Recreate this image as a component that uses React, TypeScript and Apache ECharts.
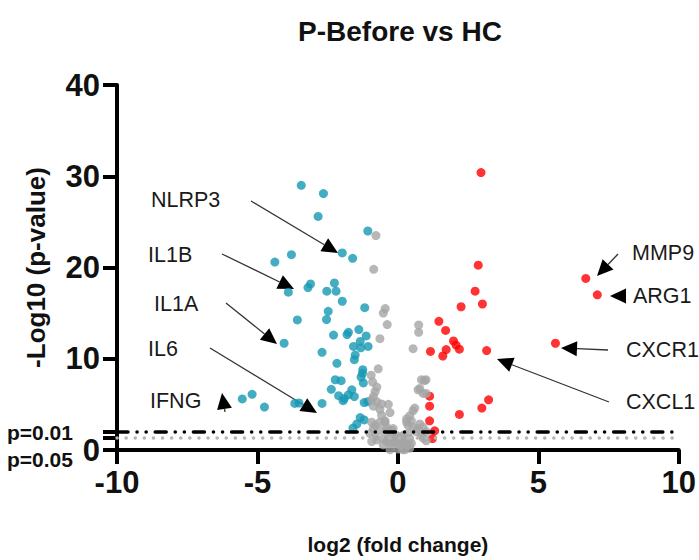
import React, { useEffect, useRef } from "react";
import * as echarts from "echarts";

const TITLE = "P-Before vs HC";
const X_NAME = "log2 (fold change)";
const Y_NAME = "-Log10 (p-value)";
const X_TICKS = [-10, -5, 0, 5, 10];
const Y_TICKS = [0, 10, 20, 30, 40];
const THRESHOLDS = [
  { label: "p=0.01", value: 2 },
  { label: "p=0.05", value: 1.3 },
];

// Down-regulated (teal)
const downPoints: number[][] = [
  [-3.44, 29.0], [-2.65, 28.1], [-2.84, 25.6], [-1.07, 24.0], [-1.98, 21.6], [-1.61, 21.0],
  [-3.79, 21.4], [-4.38, 20.6], [-3.11, 18.2], [-3.2, 17.8], [-2.26, 18.3], [-3.9, 17.3],
  [-2.53, 17.4], [-2.2, 17.4], [-1.98, 16.3], [-2.48, 15.2], [-1.18, 15.6], [-2.54, 14.3],
  [-3.58, 14.25], [-2.29, 12.6], [-1.76, 12.9], [-1.81, 12.65], [-1.39, 13.2], [-1.13, 12.5],
  [-1.34, 11.9], [-1.58, 11.35], [-1.32, 11.2], [-1.06, 11.35], [-1.52, 10.4], [-1.55, 9.9],
  [-2.7, 10.7], [-4.05, 11.7], [-2.17, 9.5], [-1.25, 8.8], [-1.26, 8.4], [-1.31, 8.0],
  [-2.23, 7.7], [-2.02, 7.6], [-1.23, 7.35], [-2.37, 6.65], [-2.11, 5.95], [-1.91, 5.65],
  [-1.76, 6.05], [-1.64, 6.6], [-1.55, 5.85], [-1.95, 5.4], [-1.2, 5.2], [-1.07, 5.3],
  [-5.54, 5.6], [-5.19, 6.1], [-4.75, 4.7], [-3.67, 5.1], [-3.52, 5.15], [-2.7, 5.1],
  [-1.34, 3.55], [-1.2, 3.3], [-1.6, 2.4], [-1.46, 2.85],
];

// Up-regulated (red)
const upPoints: number[][] = [
  [2.96, 30.4], [2.86, 20.25], [2.75, 17.4], [6.69, 18.8], [7.1, 17.0], [2.25, 15.7],
  [3.01, 16.0], [1.46, 14.1], [1.7, 13.1], [1.98, 11.95], [2.07, 11.5], [2.19, 11.05],
  [1.16, 10.8], [1.72, 11.0], [1.6, 10.3], [3.16, 10.9], [5.61, 11.7], [1.13, 5.9],
  [1.13, 4.8], [1.13, 3.2], [3.23, 5.5], [2.99, 4.6], [2.19, 3.9], [1.31, 2.1], [1.23, 1.25],
];

// Not significant (gray)
const nsPoints: number[][] = [
  [-0.78, 23.5], [-0.86, 19.8], [-0.45, 15.5], [-0.52, 15.0], [-0.38, 13.75], [0.74, 13.7],
  [0.74, 12.9], [-0.64, 12.2], [0.54, 11.1], [-0.7, 8.9], [-0.95, 8.2], [-0.9, 7.45],
  [-0.75, 6.9], [-0.81, 6.4], [0.84, 7.7], [1.0, 7.7], [0.78, 6.75], [0.72, 6.6], [0.9, 6.2],
  [-0.87, 5.85], [-0.75, 5.3], [-0.58, 5.05], [-0.34, 5.0], [-0.93, 5.5], [-0.87, 4.8],
  [-0.64, 4.45], [-0.28, 4.1], [-0.58, 3.8], [-0.46, 3.2], [-0.64, 3.05], [-0.93, 3.05],
  [-0.87, 2.35], [-0.81, 2.7], [-0.99, 1.8], [-0.81, 1.45], [-0.93, 0.92], [-0.75, 1.1],
  [-0.4, 2.5], [-0.64, 2.15], [-0.4, 2.15], [-0.22, 2.15], [-0.17, 2.35], [-0.22, 1.8],
  [-0.05, 1.6], [-0.34, 1.27], [-0.52, 1.27], [-0.05, 1.27], [0.13, 1.1], [-0.1, 0.74],
  [0.07, 0.56], [0.31, 0.56], [0.25, 0.03], [0.42, 0.2], [0.48, 0.74], [0.42, 1.27],
  [0.19, 1.6], [0.36, 1.8], [0.54, 2.5], [0.48, 3.2], [0.42, 3.75], [0.54, 4.3], [0.6, 4.6],
  [0.31, 3.05], [0.36, 2.7], [0.72, 2.35], [0.84, 1.6], [0.78, 2.85], [0.66, 2.0],
  [0.9, 2.5], [1.01, 2.0], [0.9, 1.3], [1.01, 1.0], [-0.4, 0.92], [-0.28, 0.74],
  [-0.17, 0.92], [0.17, 0.74], [0.29, 0.92], [0.4, 0.56], [0.17, 0.03], [0.0, 0.1],
  [-0.28, 0.03], [-0.52, 0.56], [0.13, 1.45], [0.31, 3.4], [0.95, 7.6], [1.01, 6.2],
  [-0.46, 3.05],
];

// Annotations: label, text anchor (px), arrow start & tip (px)
const ANNOTATIONS = [
  { text: "NLRP3", x: 151, y: 200, from: [251, 201], to: [338, 253] },
  { text: "IL1B", x: 148, y: 255, from: [222, 254], to: [294, 289] },
  { text: "IL1A", x: 154, y: 304, from: [226, 303], to: [277, 344] },
  { text: "IL6", x: 148, y: 349, from: [210, 348], to: [317, 413] },
  { text: "IFNG", x: 150, y: 401, from: [225, 412], to: [222, 393] },
  { text: "MMP9", x: 632, y: 253, from: [618, 254], to: [597, 276] },
  { text: "ARG1", x: 633, y: 296, from: [628, 296], to: [610, 296] },
  { text: "CXCR1", x: 626, y: 350, from: [608, 350], to: [561, 348] },
  { text: "CXCL1", x: 626, y: 402, from: [609, 402], to: [497, 359] },
];

const TEAL = "#1798B3";
const RED = "#FF0000";
const GRAY = "#A5A5A5";
const FONT = "'Liberation Sans', Arial, sans-serif";

function arrowGraphics(a: any) {
  const [x1, y1] = a.from;
  const [x2, y2] = a.to;
  const dx = x2 - x1;
  const dy = y2 - y1;
  const len = Math.sqrt(dx * dx + dy * dy);
  const ux = dx / len;
  const uy = dy / len;
  const headLen = 16;
  const headHalf = 7.5;
  const bx = x2 - ux * headLen;
  const by = y2 - uy * headLen;
  const px = -uy;
  const py = ux;
  const items: any[] = [];
  if (len > headLen + 2) {
    items.push({
      type: "line",
      shape: { x1, y1, x2: bx, y2: by },
      style: { stroke: "#333", lineWidth: 1.3 },
      silent: true,
    });
  }
  items.push({
    type: "polygon",
    shape: {
      points: [
        [x2, y2],
        [bx + px * headHalf, by + py * headHalf],
        [bx - px * headHalf, by - py * headHalf],
      ],
    },
    style: { fill: "#000" },
    silent: true,
  });
  return items;
}

export default function App() {
  const ref = useRef<HTMLDivElement>(null);
  useEffect(() => {
    if (!ref.current) return;
    const chart = echarts.init(ref.current, undefined, { renderer: "svg" });

    const graphics: any[] = [
      {
        type: "text",
        x: 400,
        y: 31,
        style: {
          text: TITLE,
          align: "center",
          verticalAlign: "middle",
          font: `bold 28px ${FONT}`,
          fill: "#111",
        },
      },
    ];
    THRESHOLDS.forEach((t, i) => {
      graphics.push({
        type: "text",
        x: 7,
        y: i === 0 ? 432 : 459,
        style: {
          text: t.label,
          align: "left",
          verticalAlign: "middle",
          font: `bold 21px ${FONT}`,
          fill: "#111",
        },
      });
    });
    ANNOTATIONS.forEach((a) => {
      graphics.push({
        type: "text",
        x: a.x,
        y: a.y,
        style: {
          text: a.text,
          align: "left",
          verticalAlign: "middle",
          font: `21.5px ${FONT}`,
          fill: "#1a1a1a",
        },
      });
      graphics.push(...arrowGraphics(a));
    });

    const scatterBase = {
      type: "scatter",
      symbol: "circle",
      symbolSize: 9,
      clip: false,
    };

    chart.setOption({
      animation: false,
      backgroundColor: "#fff",
      grid: { left: 117, right: 17, top: 85, bottom: 98, containLabel: false },
      xAxis: {
        type: "value",
        min: X_TICKS[0],
        max: X_TICKS[X_TICKS.length - 1],
        interval: 5,
        name: X_NAME,
        nameLocation: "middle",
        nameGap: 84,
        nameTextStyle: { fontSize: 21, fontWeight: "bold", color: "#111", fontFamily: FONT },
        axisLine: { onZero: false, lineStyle: { color: "#000", width: 4 } },
        axisTick: { length: 14, lineStyle: { color: "#000", width: 4 } },
        axisLabel: { fontSize: 31, fontWeight: "bold", color: "#111", margin: 17, fontFamily: FONT },
        splitLine: { show: false },
      },
      yAxis: {
        type: "value",
        min: Y_TICKS[0],
        max: Y_TICKS[Y_TICKS.length - 1],
        interval: 10,
        name: Y_NAME,
        nameLocation: "middle",
        nameGap: 68,
        nameRotate: 90,
        nameTextStyle: { fontSize: 26, fontWeight: "bold", color: "#111", fontFamily: FONT },
        axisLine: { onZero: false, lineStyle: { color: "#000", width: 4 } },
        axisTick: {
          length: 14,
          lineStyle: { color: "#000", width: 4 },
          customValues: [...Y_TICKS, ...THRESHOLDS.map((t) => t.value)],
        },
        axisLabel: {
          fontSize: 31,
          fontWeight: "bold",
          color: "#111",
          margin: 17,
          fontFamily: FONT,
          customValues: Y_TICKS,
        },
        splitLine: { show: false },
      },
      series: [
        {
          type: "line",
          data: [],
          markLine: {
            silent: true,
            symbol: "none",
            label: { show: false },
            data: [
              {
                yAxis: THRESHOLDS[0].value,
                lineStyle: { color: "#000", width: 3.5, type: [11, 9, 0.1, 9, 0.1, 9], cap: "round" },
              },
              {
                yAxis: THRESHOLDS[1].value,
                lineStyle: { color: "#B5B5B5", width: 3.5, type: [0.1, 9], cap: "round" },
              },
            ],
          },
        },
        { ...scatterBase, name: "down", data: downPoints, itemStyle: { color: TEAL } },
        { ...scatterBase, name: "up", data: upPoints, itemStyle: { color: RED } },
        { ...scatterBase, name: "ns", data: nsPoints, itemStyle: { color: GRAY } },
      ],
      graphic: graphics,
    });
    return () => chart.dispose();
  }, []);
  return (
    <div
      ref={ref}
      style={{ position: "absolute", left: 0, top: 0, width: 699, height: 560 }}
    />
  );
}
